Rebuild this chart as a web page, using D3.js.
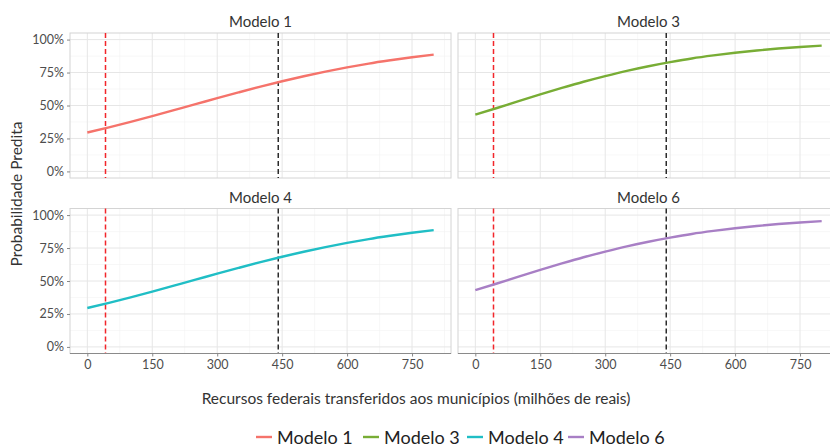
<!DOCTYPE html>
<html>
<head>
<meta charset="utf-8">
<script src="https://cdn.jsdelivr.net/npm/d3@7"></script>
<style>
body { margin: 0; background: #fff; }
text { font-family: Lato, "Open Sans", sans-serif; }
</style>
</head>
<body>
<div id="chart"></div>
<script>
// valores (x em milhoes de reais, y = probabilidade)
var recursos = [0, 50, 100, 150, 200, 250, 300, 350, 400, 450, 500, 550, 600, 650, 700, 750, 800];
var probModelo1 = [0.295, 0.334, 0.376, 0.420, 0.465, 0.510, 0.556, 0.600, 0.643, 0.684, 0.722, 0.757, 0.789, 0.818, 0.843, 0.866, 0.886];
var probModelo3 = [0.430, 0.481, 0.533, 0.584, 0.633, 0.680, 0.723, 0.763, 0.798, 0.829, 0.857, 0.880, 0.900, 0.917, 0.932, 0.944, 0.954];
var probModelo4 = [0.295, 0.334, 0.376, 0.420, 0.465, 0.510, 0.556, 0.600, 0.643, 0.684, 0.722, 0.757, 0.789, 0.818, 0.843, 0.866, 0.886];
var probModelo6 = [0.430, 0.481, 0.533, 0.584, 0.633, 0.680, 0.723, 0.763, 0.798, 0.829, 0.857, 0.880, 0.900, 0.917, 0.932, 0.944, 0.954];
var modelos = ["Modelo 1", "Modelo 3", "Modelo 4", "Modelo 6"];
var cores = ["#f5736b", "#78ad35", "#20bec5", "#a87fc5"];
var xTicks = [0, 150, 300, 450, 600, 750];
var yTicks = [0, 0.25, 0.5, 0.75, 1];
var linhaVermelha = 42;
var linhaPreta = 441;

var series = [probModelo1, probModelo3, probModelo4, probModelo6];

var width = 830, height = 447;
var panelW = 381, panelH = 145;
var colX = [70, 458];
var rowY = [33, 208.5];

var svg = d3.select("#chart").append("svg")
  .attr("width", width)
  .attr("height", height);

var x = d3.scaleLinear().domain([-40, 840]).range([0, panelW]);
var y = d3.scaleLinear().domain([-0.05, 1.05]).range([panelH, 0]);

var xMinor = [75, 225, 375, 525, 675, 825];
var yMinor = [0.125, 0.375, 0.625, 0.875];

var line = d3.line()
  .x(function(d){ return x(d[0]); })
  .y(function(d){ return y(d[1]); })
  .curve(d3.curveMonotoneX);

modelos.forEach(function(m, i){
  var col = i % 2, row = Math.floor(i / 2);
  var g = svg.append("g")
    .attr("transform", "translate(" + colX[col] + "," + rowY[row] + ")");

  // strip
  svg.append("text")
    .attr("x", colX[col] + panelW / 2)
    .attr("y", rowY[row] - 6)
    .attr("text-anchor", "middle")
    .style("font-size", "15px")
    .style("fill", "#333")
    .text(m);

  // grade menor
  g.selectAll(".xmin").data(xMinor).enter().append("line")
    .attr("x1", function(d){ return x(d); }).attr("x2", function(d){ return x(d); })
    .attr("y1", 0).attr("y2", panelH)
    .style("stroke", "#f2f2f2").style("stroke-width", 0.6);
  g.selectAll(".ymin").data(yMinor).enter().append("line")
    .attr("y1", function(d){ return y(d); }).attr("y2", function(d){ return y(d); })
    .attr("x1", 0).attr("x2", panelW)
    .style("stroke", "#f2f2f2").style("stroke-width", 0.6);
  // grade maior
  g.selectAll(".xmaj").data(xTicks).enter().append("line")
    .attr("x1", function(d){ return x(d); }).attr("x2", function(d){ return x(d); })
    .attr("y1", 0).attr("y2", panelH)
    .style("stroke", "#e6e6e6").style("stroke-width", 1);
  g.selectAll(".ymaj").data(yTicks).enter().append("line")
    .attr("y1", function(d){ return y(d); }).attr("y2", function(d){ return y(d); })
    .attr("x1", 0).attr("x2", panelW)
    .style("stroke", "#e6e6e6").style("stroke-width", 1);

  // borda
  g.append("rect")
    .attr("width", panelW).attr("height", panelH)
    .style("fill", "none").style("stroke", "#d4d4d4").style("stroke-width", 1);

  // linhas verticais tracejadas
  g.append("line")
    .attr("x1", x(linhaVermelha)).attr("x2", x(linhaVermelha))
    .attr("y1", 0).attr("y2", panelH)
    .style("stroke", "#f2262b").style("stroke-width", 1.5)
    .style("stroke-dasharray", "5,3");
  g.append("line")
    .attr("x1", x(linhaPreta)).attr("x2", x(linhaPreta))
    .attr("y1", 0).attr("y2", panelH)
    .style("stroke", "#2b2b2b").style("stroke-width", 1.5)
    .style("stroke-dasharray", "5,3");

  // curva
  var pts = recursos.map(function(r, k){ return [r, series[i][k]]; });
  g.append("path")
    .datum(pts)
    .attr("d", line)
    .style("fill", "none")
    .style("stroke", cores[i])
    .style("stroke-width", 2.4);

  // eixo y so na coluna da esquerda
  if (col == 0) {
    var yAxis = d3.axisLeft(y).tickValues(yTicks).tickSize(3).tickPadding(3)
      .tickFormat(d3.format(".0%"));
    var gy = g.append("g").call(yAxis);
    gy.select(".domain").remove();
    gy.selectAll(".tick line").style("stroke", "#888");
    gy.selectAll("text").style("font-size", "12.5px").style("fill", "#4d4d4d")
      .style("font-family", "Lato, sans-serif");
  }
  // eixo x so na linha de baixo
  if (row == 1) {
    var xAxis = d3.axisBottom(x).tickValues(xTicks).tickSize(3).tickPadding(4);
    var gx = g.append("g").attr("transform", "translate(0," + panelH + ")").call(xAxis);
    gx.select(".domain").attr("d", "M0,0H" + panelW).style("stroke", "#8a8a8a");
    gx.selectAll(".tick line").style("stroke", "#888");
    gx.selectAll("text").style("font-size", "12.5px").style("fill", "#4d4d4d")
      .style("font-family", "Lato, sans-serif");
  }
});

// titulos
svg.append("text")
  .attr("transform", "translate(22,194) rotate(-90)")
  .attr("text-anchor", "middle")
  .style("font-size", "15.5px")
  .style("fill", "#333")
  .text("Probabilidade Predita");

svg.append("text")
  .attr("x", 416)
  .attr("y", 404)
  .attr("text-anchor", "middle")
  .style("font-size", "15.5px")
  .style("fill", "#333")
  .text("Recursos federais transferidos aos municípios (milhões de reais)");

// legenda
var legX = [256, 363, 467, 568];
var leg = svg.selectAll(".leg").data(modelos).enter().append("g")
  .attr("transform", function(d, i){ return "translate(" + legX[i] + ",437)"; });
leg.append("line")
  .attr("x1", 0).attr("x2", 16)
  .style("stroke", function(d, i){ return cores[i]; })
  .style("stroke-width", 2.4);
leg.append("text")
  .attr("x", 21).attr("y", 6.5)
  .style("font-size", "18px")
  .style("fill", "#222")
  .text(function(d){ return d; });
</script>
</body>
</html>
